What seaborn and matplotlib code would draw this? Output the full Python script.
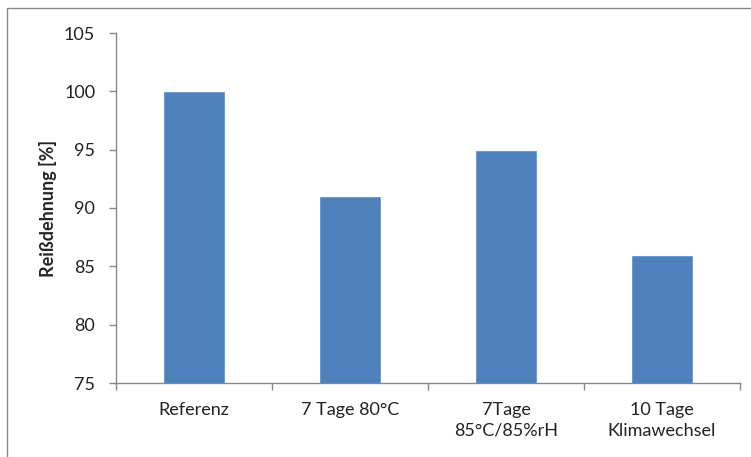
import pandas as pd
import seaborn as sns
from matplotlib import pyplot as plt
from matplotlib.patches import Rectangle

categories = ["Referenz", "7 Tage 80°C", "7Tage\n85°C/85%rH", "10 Tage\nKlimawechsel"]
values = [100, 91, 95, 86]
y_ticks = [75, 80, 85, 90, 95, 100, 105]

sns.set_style("white")
plt.rcParams["font.family"] = ["Lato", "DejaVu Sans"]

df = pd.DataFrame({"Versuch": categories, "Reißdehnung": values})

fig = plt.figure(figsize=(7.51, 4.57), dpi=100)
ax = fig.add_axes([116 / 751, 1 - 383 / 457, (740 - 116) / 751, (383 - 33) / 457])
sns.barplot(df, x="Versuch", y="Reißdehnung", color="#4F81BD", width=0.4,
            saturation=1, ax=ax)

ax.set_ylim(75, 105)
ax.set_yticks(y_ticks)
ax.set_xlim(-0.5, 3.5)
ax.set_xticks([-0.5, 0.5, 1.5, 2.5, 3.5], minor=False)
ax.set_xticklabels([])
ax.set_xticks(range(len(categories)), minor=True)
ax.set_xticklabels(categories, minor=True, linespacing=1.35)
ax.tick_params(axis="x", which="minor", bottom=False, length=0, pad=14,
               labelsize=13, labelcolor="#222222")
ax.tick_params(axis="x", which="major", bottom=True, length=5, width=1,
               color="#888888", direction="out")
ax.tick_params(axis="y", left=True, length=5, width=1, color="#888888",
               direction="out", labelsize=13, labelcolor="#222222", pad=10)

for side in ("top", "right"):
    ax.spines[side].set_visible(False)
for side in ("left", "bottom"):
    ax.spines[side].set_color("#888888")
    ax.spines[side].set_linewidth(1)

ax.set_xlabel("")
ax.set_ylabel("Reißdehnung [%]", fontsize=13, fontweight="bold", labelpad=5)

fig.patches.append(Rectangle((7 / 751, -0.1), 1.0, 1 - 8 / 457 + 0.1,
                             transform=fig.transFigure, fill=False,
                             edgecolor="#888888", linewidth=1))

fig.savefig("out.png", dpi=100)
